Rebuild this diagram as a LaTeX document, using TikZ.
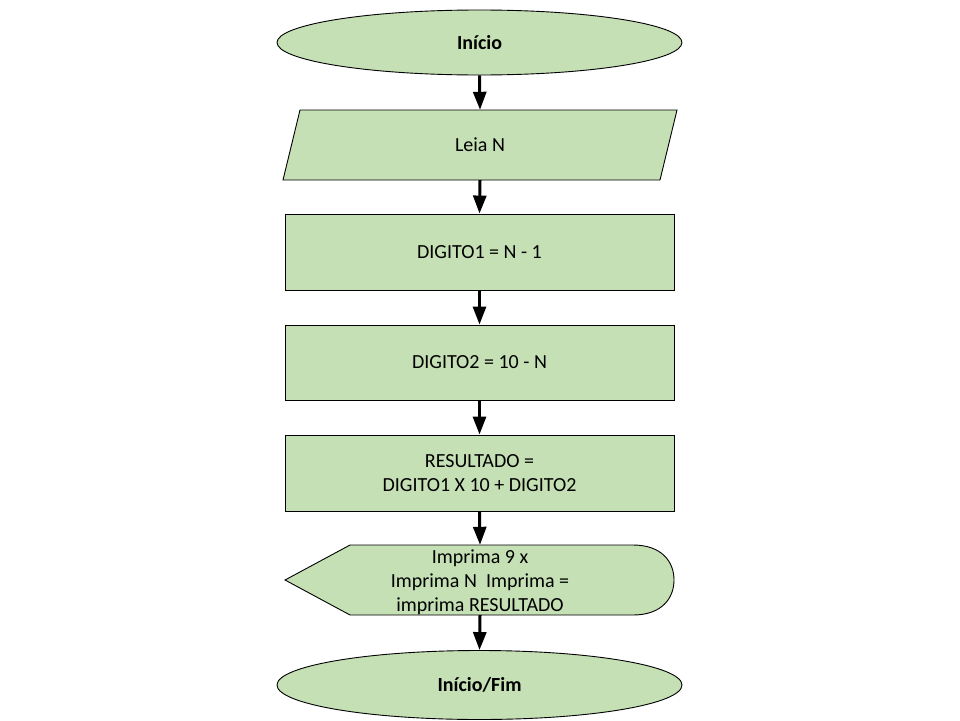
\documentclass[tikz,border=0pt]{standalone}
\usepackage{fontspec}
\setmainfont{Carlito}
\usetikzlibrary{shapes.geometric,arrows.meta}
\definecolor{boxgreen}{HTML}{C5E0B4}
\tikzset{
  shapeline/.style={draw=black, line width=0.9pt, fill=boxgreen},
  term/.style={shapeline, ellipse, inner sep=0pt},
  procbox/.style={shapeline, rectangle, inner sep=0pt, minimum width=389pt, minimum height=76pt, align=center},
  txt/.style={inner sep=0pt, align=center},
  flow/.style={line width=3pt, -{Triangle[width=13pt,length=18pt]}},
  lbl/.style={font=\fontsize{20pt}{24pt}\selectfont}
}
\begin{document}
\begin{tikzpicture}[x=1pt,y=-1pt]
\useasboundingbox (0,0) rectangle (960,720);
% terminal start
\node[term, minimum width=405pt, minimum height=65pt, lbl] (inicio) at (479.5,42.5) {\bfseries Início};
% input parallelogram
\draw[shapeline] (300,110) -- (677,110) -- (660,180) -- (283,180) -- cycle;
\node[txt, minimum width=360pt, minimum height=70pt, lbl] (leia) at (480,145) {Leia N};
% process boxes
\node[procbox, lbl] (d1) at (479.5,252) {DIGITO1 = N - 1};
\node[procbox, minimum height=75pt, lbl] (d2) at (479.5,362.5) {DIGITO2 = 10 - N};
\node[procbox, lbl] (res) at (479.5,473) {RESULTADO =\\DIGITO1 X 10 + DIGITO2};
% display shape
\draw[shapeline] (285,580) -- (350,545) -- (633,545)
  .. controls (662,545) and (674,562) .. (674,580)
  .. controls (674,598) and (662,615) .. (633,615) -- (350,615) -- cycle;
\node[txt, minimum width=300pt, minimum height=70pt, lbl] (disp) at (480,580) {};
\node[txt, lbl] (disptext) at (480,582) {Imprima 9 x\\Imprima N\ \ Imprima =\\imprima RESULTADO};
% terminal end
\node[term, minimum width=405pt, minimum height=69pt, lbl] (fim) at (479.5,685) {\bfseries Início/Fim};
% connectors
\draw[flow] (inicio.south) -- (leia.north);
\draw[flow] (leia.south) -- (d1.north);
\draw[flow] (d1.south) -- (d2.north);
\draw[flow] (d2.south) -- (res.north);
\draw[flow] (res.south) -- (disp.north);
\draw[flow] (disp.south) -- (fim.north);
\end{tikzpicture}
\end{document}
